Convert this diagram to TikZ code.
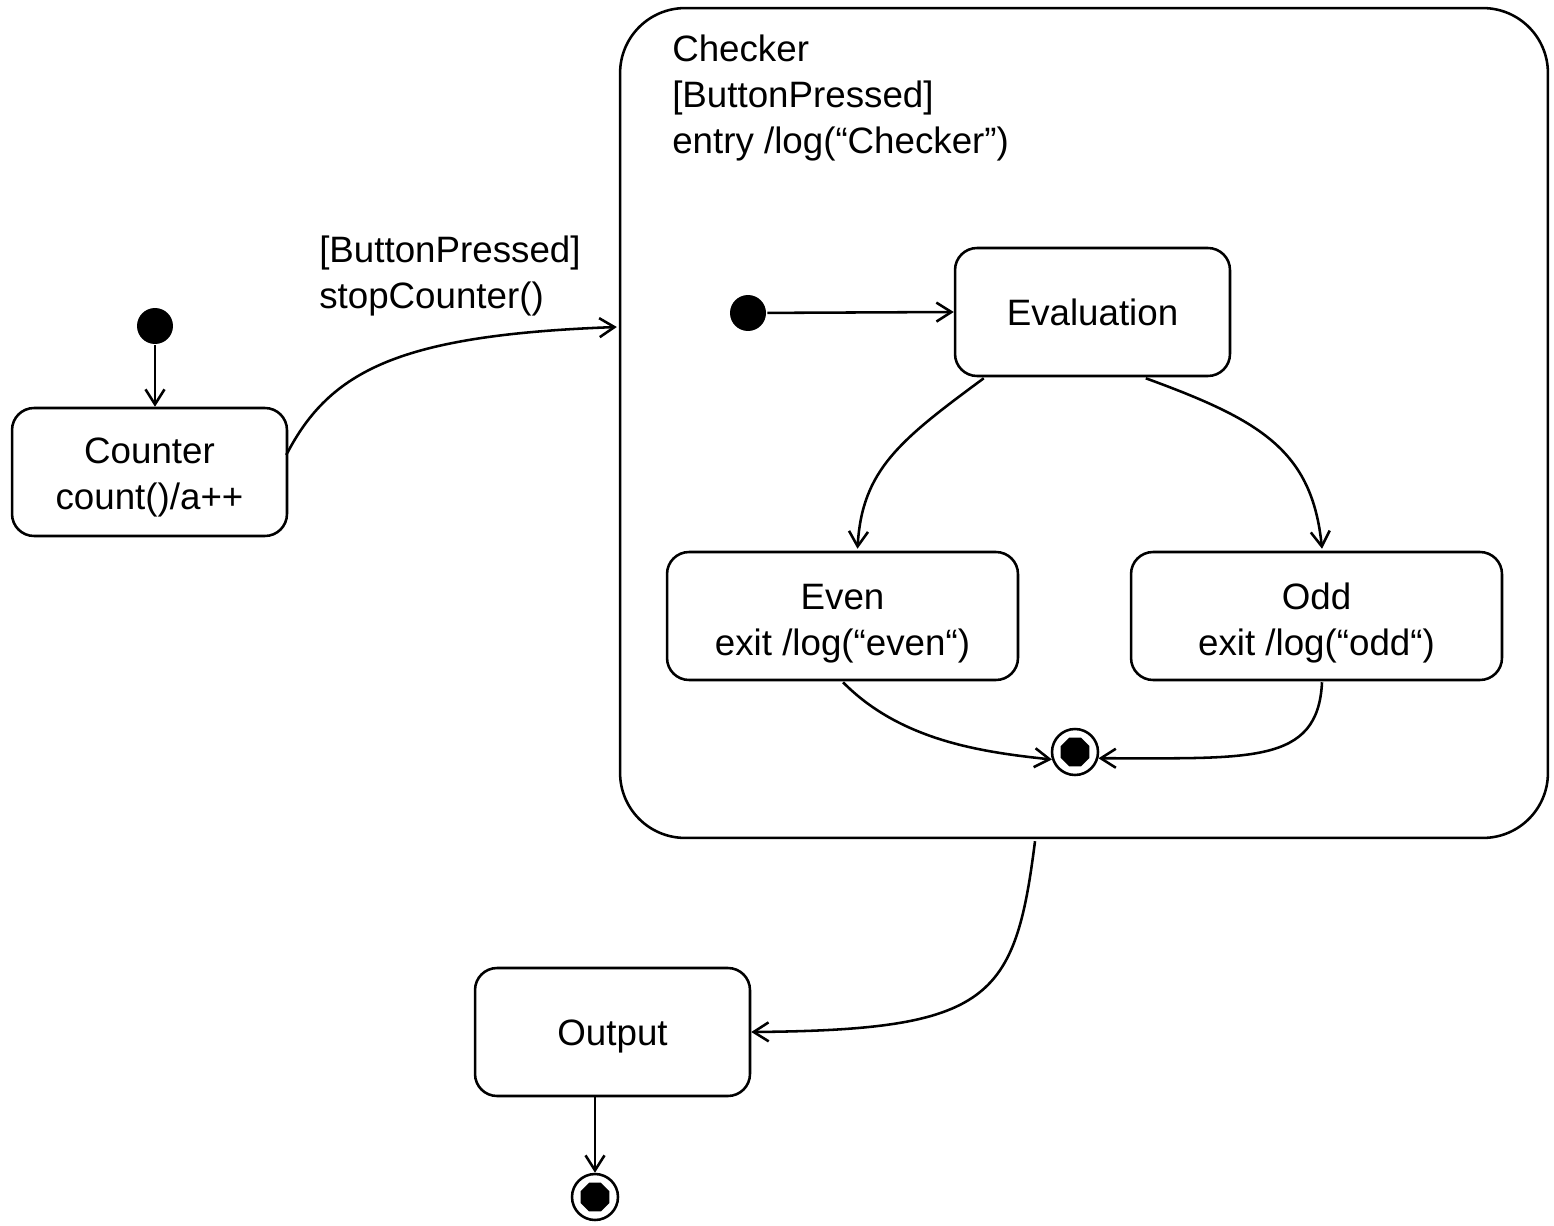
\documentclass[tikz,border=0pt]{standalone}
\usepackage{fontspec}
\setmainfont{Liberation Sans}
\usetikzlibrary{arrows.meta,shapes.geometric,calc}
\newcommand\myupstrut[1]{\rule{0pt}{#1}}
\begin{document}
\begin{tikzpicture}[x=0.02cm,y=-0.02cm,
  line width=1.45pt,
  every node/.style={font=\fontsize{20.9}{26.2}\selectfont},
  statebox/.style={draw,rounded corners=0.44cm,minimum width=5.5cm,minimum height=2.56cm,align=center,inner sep=0},
  initdot/.style={circle,fill=black,minimum size=0.72cm,inner sep=0},
  finring/.style={circle,draw,minimum size=0.92cm,inner sep=0},
  fincore/.style={regular polygon,regular polygon sides=8,fill=black,minimum size=0.62cm,inner sep=0},
  tr/.style={-{Straight Barb[length=0.3cm,width=0.38cm]}}
]
\useasboundingbox (0,0) rectangle (1554,1226);

\node[draw,rounded corners=1.3cm,minimum width=18.56cm,minimum height=16.6cm,inner sep=0] (checker) at (1084,423) {};
\node[anchor=north west,align=left,inner sep=0] (checkertxt) at (671,34) {Checker\\{}[ButtonPressed]\\entry /log(“Checker”)};

\node[initdot] (init1) at (155,326) {};
\node[statebox] (counter) at (149.5,472) {\myupstrut{0.75cm}Counter\\count()/a++};

\node[initdot] (init2) at (748,313) {};
\node[statebox] (eval) at (1092.5,312) {Evaluation};
\node[statebox,minimum width=7.02cm] (even) at (842.5,616) {\myupstrut{0.8cm}Even\\exit /log(“even“)};
\node[statebox,minimum width=7.42cm] (odd) at (1316.5,616) {\myupstrut{0.8cm}Odd\\exit /log(“odd“)};

\node[finring] (fin1) at (1075,752) {};
\node[fincore] (fin1c) at (fin1) {};

\node[statebox] (output) at (612.5,1032) {\myupstrut{0.68cm}Output};
\node[finring] (fin2) at (595,1197) {};
\node[fincore] (fin2c) at (fin2) {};

\node[anchor=north west,align=left,inner sep=0] (lbl) at (318,235) {{}[ButtonPressed]\\stopCounter()};

\draw[tr] (init1) -- (init1 |- counter.north);
\draw[tr] ($(counter.east)+(-2,-17)$) .. controls (330,370) and (400,335) .. ($(checker.west)+(-2,-96)$);
\draw[tr] (init2) -- (eval.west);
\draw[tr] ($(eval.south west)+(30,1)$) .. controls (900,440) and (862,470) .. ($(even.north)+(15,-2)$);
\draw[tr] ($(eval.south west)+(192,1)$) .. controls (1260,420) and (1312,450) .. ($(odd.north)+(5.5,-2)$);
\draw[tr] ($(even.south)+(0.5,1)$) .. controls (900,740) and (980,752) .. (fin1.198);
\draw[tr] ($(odd.south)+(5.5,1)$) .. controls (1318,765) and (1250,758) .. (fin1.-15);
\draw[tr] ($(checker.south)+(-49,2)$) .. controls (1015,1000) and (990,1030) .. (output.east);
\draw[tr] (output.south -| fin2) -- (fin2.north);
\end{tikzpicture}
\end{document}
